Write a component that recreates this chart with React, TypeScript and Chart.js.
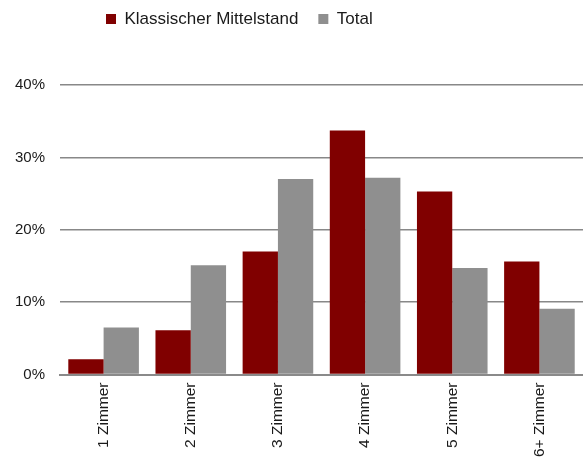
import React, { useEffect, useRef } from "react";
import { Chart, registerables } from "chart.js";

Chart.register(...registerables);

const categories = ["1 Zimmer", "2 Zimmer", "3 Zimmer", "4 Zimmer", "5 Zimmer", "6+ Zimmer"];
const mittelstand = [2.1, 6.1, 17.0, 33.7, 25.3, 15.6];
const total = [6.5, 15.1, 27.0, 27.2, 14.7, 9.1];
const seriesNames = ["Klassischer Mittelstand", "Total"];
const yTicks = [0, 10, 20, 30, 40];

const FONT = "'Liberation Sans', Arial, sans-serif";

export default function App() {
  const ref = useRef<HTMLCanvasElement | null>(null);

  useEffect(() => {
    if (!ref.current) return;
    const legendPlugin = {
      id: "legendTweak",
      beforeUpdate(chart: any) {
        const lg = chart.legend;
        if (lg && !lg.__wrapped) {
          const orig = lg.fit.bind(lg);
          lg.fit = function () {
            orig();
            this.height = 85;
          };
          lg.__wrapped = true;
        }
      },
      afterLayout(chart: any) {
        const lg = chart.legend;
        if (!lg) return;
        const pad = lg.options.labels.padding;
        lg.left = 106 - pad;
        lg.top = 19 - pad - 8.5;
      },
    };
    const chart = new Chart(ref.current, {
      type: "bar",
      data: {
        labels: categories,
        datasets: [
          {
            label: seriesNames[0],
            data: mittelstand,
            backgroundColor: "#800000",
            borderWidth: 0,
            categoryPercentage: 0.81,
            barPercentage: 1,
          },
          {
            label: seriesNames[1],
            data: total,
            backgroundColor: "#8f8f8f",
            borderWidth: 0,
            categoryPercentage: 0.81,
            barPercentage: 1,
          },
        ],
      },
      options: {
        responsive: false,
        animation: false,
        layout: { padding: { left: 0, right: 0, top: 0, bottom: -4 } },
        plugins: {
          legend: {
            position: "top",
            align: "start",
            labels: {
              boxWidth: 10,
              boxHeight: 10,
              padding: 20,
              color: "#1a1a1a",
              font: { family: FONT, size: 17 },
            },
          },
          tooltip: { enabled: false },
        },
        scales: {
          x: {
            grid: { display: false, drawTicks: false },
            border: { display: true, color: "#8a8a8a", width: 2 },
            ticks: {
              minRotation: 90,
              maxRotation: 90,
              padding: 8,
              color: "#1a1a1a",
              font: { family: FONT, size: 15.5 },
            },
          },
          y: {
            min: 0,
            max: 40,
            afterBuildTicks(axis: any) {
              axis.ticks = yTicks.map((v) => ({ value: v }));
            },
            grid: { color: "#888888", lineWidth: 1.5, drawTicks: false },
            border: { display: false },
            ticks: {
              padding: 15,
              color: "#1a1a1a",
              font: { family: FONT, size: 15 },
              callback: (v: any) => v + "%",
            },
          },
        },
      },
      plugins: [legendPlugin],
    });
    return () => chart.destroy();
  }, []);

  return (
    <div style={{ position: "absolute", left: 0, top: 0, width: 583, height: 461 }}>
      <canvas ref={ref} width={583} height={461} style={{ display: "block" }} />
    </div>
  );
}
